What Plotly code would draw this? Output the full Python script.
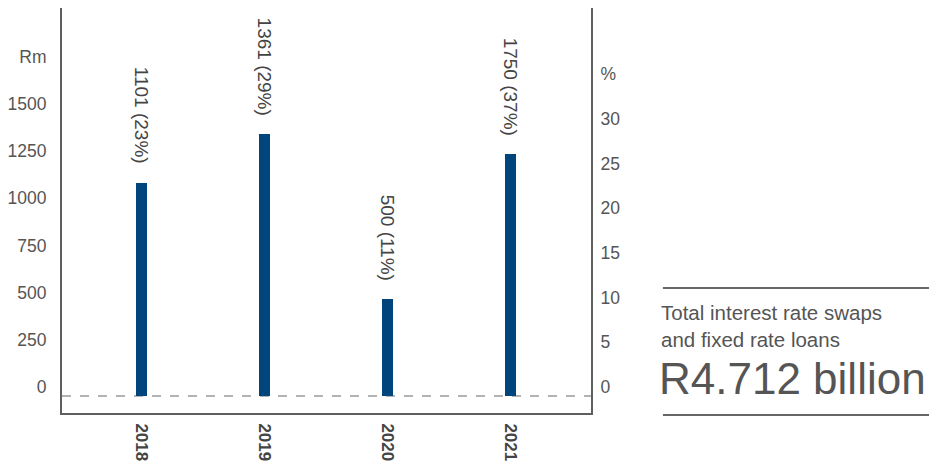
import plotly.graph_objects as go

years = ["2018", "2019", "2020", "2021"]
bar_heights_rm = [1128, 1386, 512, 1280]
label_rm = [1101, 1361, 500, 1750]
label_pct = [23, 29, 11, 37]

left_tickvals = [0, 250, 500, 750, 1000, 1250, 1500, 1750]
left_ticktext = ["0", "250", "500", "750", "1000", "1250", "1500", "Rm"]
right_tickvals = [0, 5, 10, 15, 20, 25, 30, 35]
right_ticktext = ["0", "5", "10", "15", "20", "25", "30", "%"]

summary_lines = ["Total interest rate swaps", "and fixed rate loans"]
summary_total = "R4.712 billion"

FONT = "Liberation Sans, Arial, sans-serif"
TXT = "#555555"
AX = "#5f5f5f"
BLUE = "#00457c"

fig = go.Figure()
fig.add_trace(go.Bar(x=years, y=bar_heights_rm, width=0.09, marker_color=BLUE,
                     marker_line_width=0, hoverinfo="skip", yaxis="y"))
fig.add_trace(go.Scatter(x=years, y=label_pct, mode="markers", marker=dict(opacity=0),
                         hoverinfo="skip", yaxis="y2", showlegend=False))

for i, (h, rm, p) in enumerate(zip(bar_heights_rm, label_rm, label_pct)):
    fig.add_annotation(x=i, y=h, xref="x", yref="y", text=f"{rm} ({p}%)",
                       textangle=90, showarrow=False, yanchor="bottom", yshift=17,
                       font=dict(family=FONT, size=19, color="#444444"))

fig.add_shape(type="line", xref="paper", yref="y", x0=0, x1=1, y0=0, y1=0,
              line=dict(color="#9a9a9a", width=1.3, dash="dash"), layer="below")

# summary box
fig.add_shape(type="line", xref="paper", yref="paper", x0=1.136, x1=1.641, y0=0.3086, y1=0.3086,
              line=dict(color="#666666", width=2))
fig.add_shape(type="line", xref="paper", yref="paper", x0=1.136, x1=1.641, y0=-0.005, y1=-0.005,
              line=dict(color="#666666", width=2))
fig.add_annotation(xref="paper", yref="paper", x=1.128, y=(413 - 312) / 405, xanchor="left",
                   yanchor="middle", text=summary_lines[0], showarrow=False,
                   font=dict(family=FONT, size=20.5, color=TXT))
fig.add_annotation(xref="paper", yref="paper", x=1.128, y=(413 - 339) / 405, xanchor="left",
                   yanchor="middle", text=summary_lines[1], showarrow=False,
                   font=dict(family=FONT, size=20.5, color=TXT))
fig.add_annotation(xref="paper", yref="paper", x=1.124, y=(413 - 378) / 405, xanchor="left",
                   yanchor="middle", text=summary_total, showarrow=False,
                   font=dict(family=FONT, size=44, color=TXT))

fig.update_layout(
    width=937, height=463,
    margin=dict(l=54, r=354, t=0, b=58, autoexpand=False),
    paper_bgcolor="white", plot_bgcolor="white",
    showlegend=False, bargap=0,
    xaxis=dict(type="category", range=[-0.648, 3.653], showgrid=False, zeroline=False,
               showline=True, linecolor=AX, linewidth=2, tickangle=90, ticks="",
               automargin=False,
               tickfont=dict(family=FONT, size=17, color="#444444", weight="bold"),
               ticklabelstandoff=5),
    yaxis=dict(range=[-90, 2055], tickvals=left_tickvals, ticktext=left_ticktext,
               showgrid=False, zeroline=False, showline=True, linecolor=AX, linewidth=2,
               automargin=False,
               ticks="", ticklabelshift=-9, ticklabelstandoff=10,
               tickfont=dict(family=FONT, size=17.5, color=TXT)),
    yaxis2=dict(range=[-1.903, 43.43], tickvals=right_tickvals, ticktext=right_ticktext,
                overlaying="y", side="right", showgrid=False, zeroline=False, showline=True,
                automargin=False,
                linecolor=AX, linewidth=2, ticks="", ticklabelshift=-9, ticklabelstandoff=4,
                tickfont=dict(family=FONT, size=17.5, color=TXT)),
)

fig.write_html("out.html")
